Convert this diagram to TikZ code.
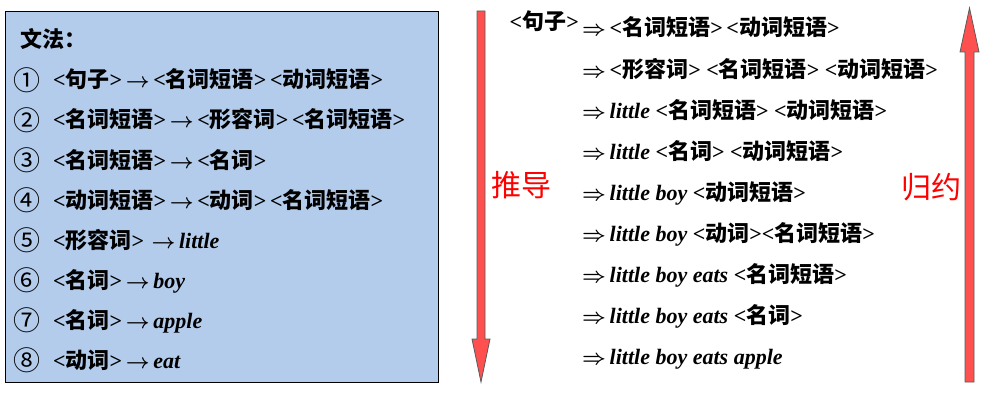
\documentclass[tikz,border=0pt]{standalone}
\usepackage{fontspec}
\setmainfont{Liberation Serif}
\newfontfamily\zhfont{Noto Sans CJK SC}
\newcommand\zh[1]{{\zhfont #1}}
\newcommand\zS{<\zh{句子}>}
\newcommand\zNP{<\zh{名词短语}>}
\newcommand\zVP{<\zh{动词短语}>}
\newcommand\zN{<\zh{名词}>}
\newcommand\zV{<\zh{动词}>}
\newcommand\zA{<\zh{形容词}>}
\newcommand\ra{\,$\rightarrow$\,}
\newcommand\Ra{$\Rightarrow$\,}
\definecolor{boxblue}{RGB}{180,204,236}
\definecolor{arrred}{RGB}{255,80,80}
\definecolor{arredge}{RGB}{90,90,90}
\begin{document}
\begin{tikzpicture}[x=1pt,y=-1pt,
  rule/.style={anchor=base west,inner sep=0pt,font=\fontsize{22}{22}\selectfont\bfseries\boldmath},
  der/.style={anchor=base west,inner sep=0pt,font=\fontsize{22}{22}\selectfont\bfseries\boldmath},
  num/.style={inner sep=0pt,font=\fontsize{27}{27}\selectfont\zhfont},
  redlbl/.style={inner sep=0pt,text=red,font=\fontsize{30}{30}\selectfont\zhfont},
  bigarrow/.style={fill=arrred,draw=arredge,line width=0.8pt,line join=miter}]
\useasboundingbox (0,0) rectangle (1000,401);
\node[draw=black,line width=1.3pt,fill=boxblue,minimum width=433pt,minimum height=371pt,anchor=north west,inner sep=0pt] (box) at (5,11) {};
% rules
\node[rule] (title) at (20,48) {\zh{文法：}};
\foreach \i/\n/\t in {1/①/{\zS\ra\zNP\,\zVP},
                        2/②/{\zNP\ra\zA\,\zNP},
                        3/③/{\zNP\ra\zN},
                        4/④/{\zVP\ra\zV\,\zNP},
                        5/⑤/{\zA\,\ra\textit{little}},
                        6/⑥/{\zN\ra\textit{boy}},
                        7/⑦/{\zN\ra\textit{apple}},
                        8/⑧/{\zV\ra\textit{eat}}}{
  \node[num] (n\i) at (27,{40+40*\i}) {\n};
  \node[rule] (r\i) at (53,{48+40*\i}) {\t};
}
% derivation
\node[der,anchor=base east] (start) at (579,30) {\zS};
\foreach \i/\t in {1/{\zNP\,\zVP},
                   2/{\zA\ \zNP\ \zVP},
                   3/{\textit{little} \zNP\ \zVP},
                   4/{\textit{little} \zN\ \zVP},
                   5/{\textit{little boy} \zVP},
                   6/{\textit{little boy} \zV\zNP},
                   7/{\textit{little boy eats} \zNP},
                   8/{\textit{little boy eats} \zN},
                   9/{\textit{little boy eats apple}}}{
  \node[der] (d\i) at (582,{36+41.1*(\i-1)}) {\Ra\t};
}
% big arrows
\draw[bigarrow] (477,11) -- (485,11) -- (485,339) -- (490,339) -- (481,382) -- (472,339) -- (477,339) -- cycle;
\draw[bigarrow] (965,382) -- (974,382) -- (974,52) -- (979,52) -- (969.5,8) -- (960,52) -- (965,52) -- cycle;
\node[redlbl] (tui) at (521,185) {推导};
\node[redlbl] (gui) at (931,187) {归约};
\end{tikzpicture}
\end{document}
